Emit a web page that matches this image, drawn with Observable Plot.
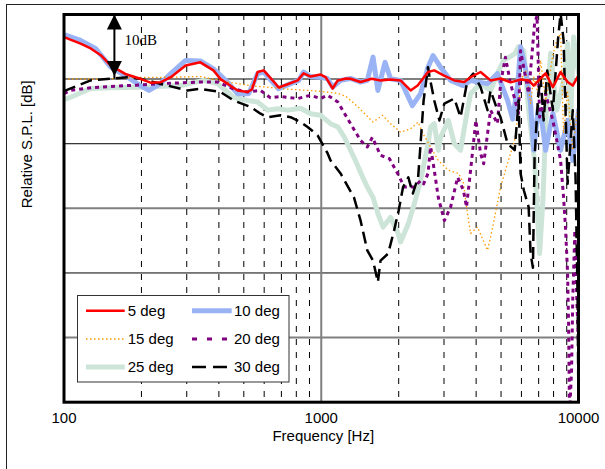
<!DOCTYPE html>
<html>
<head>
<meta charset="utf-8">
<script src="https://cdn.jsdelivr.net/npm/d3@7"></script>
<script src="https://cdn.jsdelivr.net/npm/@observablehq/plot@0.6"></script>
<style>
  body { margin: 0; background: #fff; }
  #wrap { position: relative; width: 605px; height: 469px; overflow: hidden; font-family: "Liberation Sans", Arial, sans-serif; }
  #wrap > svg.chart { position: absolute; left: 0; top: 0; }
  #border { position: absolute; left: 6px; top: 4px; width: 700px; height: 600px; border-left: 1.5px solid #222; border-top: 1.5px solid #222; }
  #wrap > svg.legend { position: absolute; left: 77px; top: 295px; }
</style>
</head>
<body>
<div id="wrap"></div>
<script>
// Off-axis response, [frequency Hz, relative SPL dB]
const deg5 = [[100,6.5],[116,5.5],[127,4.75],[139,3.7],[152,2.1],[173,0.8],[198,0.05],[217,-0.55],[237,-0.5],[260,0.3],[297,2.1],[339,2.6],[381,1.35],[406,0],[473,-1.75],[517,-2.0],[538,-1.6],[566,1.1],[597,1.35],[647,-0.2],[683,-1.3],[740,-0.8],[810,-0.2],[854,0.9],[909,0.4],[951,0.55],[994,0.7],[1040,0.3],[1108,-1.45],[1159,-0.2],[1250,0.1],[1300,0.05],[1422,-0.45],[1570,0.05],[1700,-0.2],[1860,-0.05],[2034,-0.2],[2225,-1.75],[2370,-1.0],[2600,1.1],[2750,1.35],[3000,0.55],[3290,-0.2],[3600,-0.45],[3806,0.3],[4163,1.1],[4552,-0.2],[4978,0.1],[5445,-0.5],[5955,-0.05],[6400,-0.2],[6700,-1.0],[7122,0.1],[7450,0.9],[7950,-1.25],[8519,1.1],[9070,-0.45],[9500,-1.0],[10000,0.6]];
const deg10 = [[100,6.9],[116,6.0],[133,4.7],[152,1.85],[177,0.3],[198,-1.0],[214,-1.75],[237,-0.7],[260,0.85],[297,2.9],[339,2.8],[381,1.6],[432,-0.45],[473,-2.25],[522,-2.25],[566,0.85],[597,1.1],[647,-0.45],[683,-1.5],[760,-0.7],[817,-0.2],[854,1.1],[909,0.4],[994,0.3],[1059,0.05],[1108,-1.25],[1189,-0.2],[1300,0.1],[1422,-0.45],[1510,-0.2],[1590,3.4],[1660,-1.75],[1770,2.6],[1860,0.05],[2034,-0.2],[2260,-4.1],[2433,-2.25],[2600,1.85],[2720,3.65],[2910,1.85],[3183,-0.2],[3560,-1.0],[3806,-0.2],[4050,-0.45],[4430,-0.7],[4840,0.85],[5300,-3.3],[5550,-6.2],[5800,-1.0],[5955,5.0],[6240,1.35],[6513,-3.8],[6700,-11],[6960,-4.8],[7122,-4.8],[7450,-11],[7950,-5.3],[8519,-11],[9070,-6.4],[9500,-12.6],[10000,-4.8]];
const deg15 = [[100,0.05],[139,0],[198,0.25],[260,0.3],[339,0.4],[432,-0.45],[531,-1.0],[714,-1.5],[968,-1.85],[1160,-2.2],[1250,-2.7],[1390,-4.3],[1590,-6.65],[1730,-5.6],[1860,-6.9],[2034,-8.2],[2225,-7.7],[2380,-6.65],[2500,-8.6],[2850,-12.6],[3120,-14.1],[3420,-14.6],[3570,-16.1],[3670,-19.8],[3806,-23.9],[4050,-22.9],[4430,-26.5],[4640,-22.9],[4978,-16.7],[5300,-13.0],[5650,-9.5],[5850,-4.8],[5955,-0.2],[6240,1.35],[6513,-3.8],[6700,0.3],[6960,-2.2],[7122,2.9],[7450,-3.3],[7950,3.7],[8230,6.0],[8519,7.1],[8750,-8.4],[9070,-1.75],[9500,-11],[10000,-3.3]];
const deg20 = [[100,-2.25],[106,-1.75],[130,-1.3],[177,-1.0],[237,-0.7],[339,-0.45],[395,-0.45],[456,-1.5],[517,-2.0],[581,-1.75],[635,-2.9],[695,-2.7],[810,-3.0],[909,-2.5],[994,-3.0],[1059,-2.5],[1160,-3.55],[1300,-6.9],[1422,-9.5],[1510,-10.5],[1580,-9.0],[1700,-11.8],[1840,-12.3],[2000,-14.9],[2100,-16.7],[2300,-16.7],[2433,-15.7],[2500,-16.2],[2600,-14.6],[2661,-10.5],[2750,-14.1],[2850,-18.3],[3010,-21.9],[3183,-19.8],[3390,-15.2],[3570,-17.2],[3670,-19.8],[3806,-14.1],[3990,-6.4],[4163,-11.5],[4280,-13.1],[4552,-4.8],[4840,-6.9],[4978,-0.7],[5200,3.4],[5445,-0.7],[5850,-5.3],[5955,4.4],[6400,-2.2],[6750,8.6],[6900,9.8],[7060,-5.9],[7450,-2.25],[7950,-6.4],[8519,-12.6],[8750,-18.3],[8900,-22.9],[9070,-30],[9150,-37.8],[9230,-52],[9400,-45],[9500,-34],[9680,-23.4],[9850,-34],[10000,-41.5]];
const deg25 = [[100,-3.2],[106,-2.8],[127,-1.45],[152,-1.35],[198,-1.25],[284,-1.0],[348,-0.2],[395,-0.7],[456,-2.8],[517,-3.3],[566,-3.55],[619,-4.8],[676,-4.6],[740,-4.8],[831,-4.5],[909,-5.35],[994,-5.6],[1087,-6.9],[1160,-7.4],[1230,-9.0],[1340,-12.1],[1450,-15.2],[1510,-16.7],[1590,-18.3],[1660,-20.8],[1740,-22.9],[1860,-21.4],[1990,-23.9],[2034,-25.2],[2180,-22.4],[2300,-19.3],[2433,-15.7],[2600,-10.0],[2661,-7.4],[2750,-6.9],[2850,-11.0],[2910,-9.0],[3120,-6.4],[3290,-10.0],[3480,-11.0],[3700,-4.8],[3806,-2.25],[4163,-0.7],[4552,-1.75],[4840,0.85],[5120,2.9],[5650,3.9],[5850,5.0],[6130,4.4],[6400,-4.8],[6750,-12.6],[7060,-27.0],[7270,-18.8],[7500,-4.8],[7790,4.0],[8230,-4.8],[8750,-0.2],[9070,5.5],[9318,-6.4],[9570,6.5],[10000,0.9]];
const deg30 = [[100,-1.85],[127,-0.2],[177,0.3],[198,0.05],[253,-1.0],[302,-1.75],[339,-1.5],[406,-2.0],[456,-3.3],[531,-4.3],[581,-5.35],[619,-5.9],[695,-5.6],[760,-5.9],[831,-6.65],[885,-7.4],[968,-8.7],[1059,-11.5],[1087,-12.6],[1189,-14.6],[1340,-18.3],[1422,-21.9],[1510,-26.5],[1590,-28.1],[1660,-31.4],[1700,-28.1],[1820,-27.0],[1920,-23.4],[2000,-20.3],[2080,-16.7],[2180,-15.2],[2270,-17.7],[2380,-15.2],[2433,-10.0],[2500,-3.3],[2600,1.85],[2630,0.6],[2750,-3.3],[2880,-6.4],[3010,-3.8],[3290,-3.0],[3480,-5.9],[3700,-0.2],[3900,0.85],[4163,-1.25],[4430,-4.8],[4552,-1.75],[4840,-4.8],[4978,-5.9],[5300,-10.0],[5650,-11.0],[5850,-3.3],[5955,-14.6],[6130,-17.2],[6400,-19.8],[6513,-27.0],[6650,-29.2],[6750,-12.1],[6960,-2.8],[7122,0.3],[7320,-6.4],[7560,1.35],[7950,-4.8],[8340,6.5],[8519,10.2],[8750,6.0],[9070,-16.2],[9500,-4.8],[9740,-15.2],[9920,-34],[10000,-52]];

// Axis ticks and grid
const freqLabels = [100, 1000, 10000];
const freqGridDashed = [200, 300, 400, 500, 600, 700, 800, 900, 2000, 3000, 4000, 5000, 6000, 7000, 8000, 9000];
const dbGridDark = [-10, -30];
const dbGridGrey = [0, -20, -40];

// Scale-bar annotation: 10 dB span
const scaleBar = {freq: 157, from: 0, to: 10, label: "10dB"};

const series = [
  {name: "5 deg", data: deg5, style: {stroke: "#ff0000", strokeWidth: 2.5}},
  {name: "10 deg", data: deg10, style: {stroke: "#99b3f5", strokeWidth: 5}},
  {name: "15 deg", data: deg15, style: {stroke: "#ff9900", strokeWidth: 1.3, strokeDasharray: "1.5,2.5", strokeLinecap: "butt"}},
  {name: "20 deg", data: deg20, style: {stroke: "#800080", strokeWidth: 3, strokeDasharray: "4,4", strokeLinecap: "butt"}},
  {name: "25 deg", data: deg25, style: {stroke: "#cde4d9", strokeWidth: 5}},
  {name: "30 deg", data: deg30, style: {stroke: "#000000", strokeWidth: 2.5, strokeDasharray: "12,6", strokeLinecap: "butt"}}
];
const drawOrder = ["25 deg", "10 deg", "15 deg", "20 deg", "30 deg", "5 deg"];

const triUp = {draw(c) { c.moveTo(0, 0); c.lineTo(7.5, 15); c.lineTo(-7.5, 15); c.closePath(); }};
const triDown = {draw(c) { c.moveTo(0, -3); c.lineTo(7.5, -18); c.lineTo(-7.5, -18); c.closePath(); }};

const lineMarks = drawOrder.map(n => {
  const s = series.find(d => d.name === n);
  return Plot.line(s.data, {x: d => d[0], y: d => d[1], clip: true, strokeLinejoin: "round", ...s.style});
});

const chart = Plot.plot({
  width: 605,
  height: 469,
  marginLeft: 63.5,
  marginRight: 27,
  marginTop: 14,
  marginBottom: 67.3,
  x: {type: "log", domain: [100, 10000], axis: null},
  y: {domain: [-50, 10], axis: null},
  style: {background: "transparent", fontFamily: "'Liberation Sans', Arial, sans-serif"},
  marks: [
    Plot.ruleY(dbGridDark, {stroke: "#000", strokeWidth: 1}),
    Plot.ruleY(dbGridGrey, {stroke: "#808080", strokeWidth: 2}),
    Plot.ruleX(freqGridDashed, {stroke: "#000", strokeWidth: 1, strokeDasharray: "6,7"}),
    Plot.ruleX([1000], {stroke: "#808080", strokeWidth: 2}),
    ...lineMarks,
    Plot.ruleX([scaleBar], {x: "freq", y1: "from", y2: "to", stroke: "#000", strokeWidth: 2}),
    Plot.dot([scaleBar], {x: "freq", y: "to", symbol: triUp, r: 5, fill: "#000", stroke: "none"}),
    Plot.dot([scaleBar], {x: "freq", y: "from", symbol: triDown, r: 5, fill: "#000", stroke: "none"}),
    Plot.text([scaleBar], {x: d => d.freq * 1.095, y: 6, text: "label", textAnchor: "start", fontFamily: "'Liberation Serif', 'Times New Roman', serif", fontSize: 15, fill: "#000"}),
    Plot.frame({stroke: "#000", strokeWidth: 3}),
    Plot.text(freqLabels, {x: d => d, frameAnchor: "bottom", dy: 21, text: d => String(d), fontSize: 15, fill: "#000"}),
    Plot.text(["Frequency [Hz]"], {frameAnchor: "bottom", dy: 38.5, dx: 2, fontSize: 15, fill: "#000"}),
    Plot.text(["Relative S.P.L. [dB]"], {frameAnchor: "left", dx: -36.5, rotate: -90, fontSize: 15, fill: "#000"})
  ]
});
chart.classList.add("chart");

const wrap = document.getElementById("wrap");
wrap.appendChild(chart);
const border = document.createElement("div");
border.id = "border";
wrap.appendChild(border);

// Legend: two columns, three rows of line-style swatches
const rowY = [15.7, 44, 72];
const legend = d3.create("svg").attr("class", "legend").attr("width", 213).attr("height", 88)
  .style("font-family", "'Liberation Sans', Arial, sans-serif").style("font-size", "15px");
legend.append("rect").attr("x", 0.5).attr("y", 0.5).attr("width", 211.5).attr("height", 86.5)
  .attr("fill", "#fff").attr("stroke", "#333").attr("stroke-width", 1);
series.forEach((s, i) => {
  const col = i % 2, row = Math.floor(i / 2);
  const x1 = col ? 115 : 9, x2 = col ? 154.7 : 47.7, tx = col ? 157 : 50.7;
  const st = s.style;
  legend.append("line").attr("x1", x1).attr("x2", x2).attr("y1", rowY[row]).attr("y2", rowY[row])
    .attr("stroke", st.stroke).attr("stroke-width", st.strokeWidth)
    .attr("stroke-dasharray", s.name === "20 deg" ? "5,10" : s.name === "30 deg" ? "14,7" : st.strokeDasharray || null)
    .attr("stroke-linecap", "butt");
  legend.append("text").attr("x", tx).attr("y", rowY[row]).attr("dy", "0.35em").attr("fill", "#000").text(s.name);
});
wrap.appendChild(legend.node());
</script>
</body>
</html>
